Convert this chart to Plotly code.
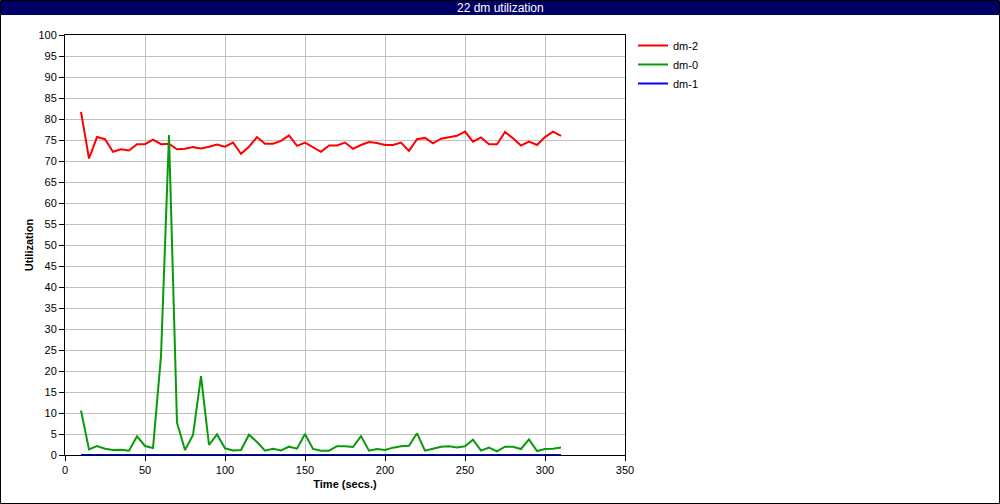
import plotly.graph_objects as go

time_s = [10, 15, 20, 25, 30, 35, 40, 45, 50, 55, 60, 65, 70, 75, 80, 85, 90, 95, 100,
          105, 110, 115, 120, 125, 130, 135, 140, 145, 150, 155, 160, 165, 170, 175, 180,
          185, 190, 195, 200, 205, 210, 215, 220, 225, 230, 235, 240, 245, 250, 255, 260,
          265, 270, 275, 280, 285, 290, 295, 300, 305, 310]

dm2 = [81.7, 70.6, 75.7, 75.2, 72.2, 72.8, 72.5, 74.0, 74.0, 75.1, 74.0, 74.1, 72.8, 72.9,
       73.3, 73.0, 73.4, 73.9, 73.4, 74.4, 71.7, 73.4, 75.7, 74.1, 74.1, 74.8, 76.1, 73.6,
       74.4, 73.3, 72.2, 73.7, 73.7, 74.4, 72.9, 73.8, 74.5, 74.3, 73.8, 73.8, 74.4, 72.4,
       75.2, 75.5, 74.2, 75.3, 75.7, 76.0, 77.0, 74.6, 75.6, 74.0, 74.0, 76.9, 75.4, 73.7,
       74.6, 73.8, 75.7, 77.0, 76.0]

dm0 = [10.6, 1.35, 2.14, 1.5, 1.2, 1.25, 1.03, 4.44, 2.14, 1.67, 23.5, 76.2, 7.7, 1.2,
       4.76, 18.8, 2.38, 4.9, 1.6, 1.1, 1.2, 4.84, 3.1, 1.03, 1.5, 1.1, 1.98, 1.5, 5.0,
       1.43, 1.03, 1.03, 2.1, 2.1, 1.9, 4.5, 1.03, 1.43, 1.2, 1.75, 2.06, 2.2, 5.16, 1.03,
       1.5, 1.98, 2.06, 1.8, 2.06, 3.65, 1.03, 1.75, 0.87, 1.98, 1.98, 1.43, 3.73, 0.95,
       1.43, 1.5, 1.8]

dm1 = [0.0] * len(time_s)

series = [("dm-2", dm2, "#ff0000"), ("dm-0", dm0, "#0a9a0a"), ("dm-1", dm1, "#0000ff")]

FONT = "Liberation Sans, Arial, sans-serif"

fig = go.Figure()
for name, vals, col in series:
    fig.add_trace(go.Scatter(x=time_s, y=vals, mode="lines", name=name,
                             line=dict(color=col, width=2)))

W, H = 1000, 504
L, R, T, B = 65, 625, 35, 455

def px2x(px):
    return (px - L) / (R - L)

def py2y(py):
    return (B - py) / (B - T)

fig.update_layout(
    width=W, height=H,
    margin=dict(l=L, r=W - R, t=T, b=H - B),
    paper_bgcolor="white", plot_bgcolor="white",
    font=dict(family=FONT, size=11, color="black"),
    showlegend=True,
    legend=dict(x=px2x(633), y=py2y(31), xanchor="left", yanchor="top",
                font=dict(size=11), bgcolor="rgba(0,0,0,0)", itemwidth=30,
                tracegroupgap=0),
    xaxis=dict(range=[0, 350], dtick=50, tick0=0, showgrid=True, gridcolor="#c0c0c0",
               gridwidth=1, showline=True, linecolor="black", linewidth=1, mirror=True,
               ticks="outside", ticklen=5, tickcolor="black", zeroline=False,
               title=dict(text="<b>Time (secs.)</b>", font=dict(size=11), standoff=5)),
    yaxis=dict(range=[0, 100], dtick=5, tick0=0, showgrid=True, gridcolor="#c0c0c0",
               gridwidth=1, showline=True, linecolor="black", linewidth=1, mirror=True,
               ticks="outside", ticklen=5, tickcolor="black", zeroline=False,
               title=dict(text="<b>Utilization</b>", font=dict(size=11), standoff=2)),
)

# title bar
fig.add_shape(type="rect", xref="paper", yref="paper",
              x0=px2x(1), x1=px2x(999), y0=py2y(15), y1=py2y(1),
              fillcolor="#000066", line=dict(width=0), layer="above")
fig.add_annotation(text="22 dm utilization", xref="paper", yref="paper",
                   x=px2x(500), y=py2y(8), showarrow=False,
                   font=dict(color="white", size=12, family=FONT),
                   xanchor="center", yanchor="middle")
# outer border
fig.add_shape(type="rect", xref="paper", yref="paper",
              x0=px2x(0.5), x1=px2x(999.5), y0=py2y(503.5), y1=py2y(0.5),
              line=dict(color="black", width=1), fillcolor="rgba(0,0,0,0)")

fig.write_html("out.html", config={"displayModeBar": False},
               post_script="document.body.style.margin='0';document.body.style.overflow='hidden';")
